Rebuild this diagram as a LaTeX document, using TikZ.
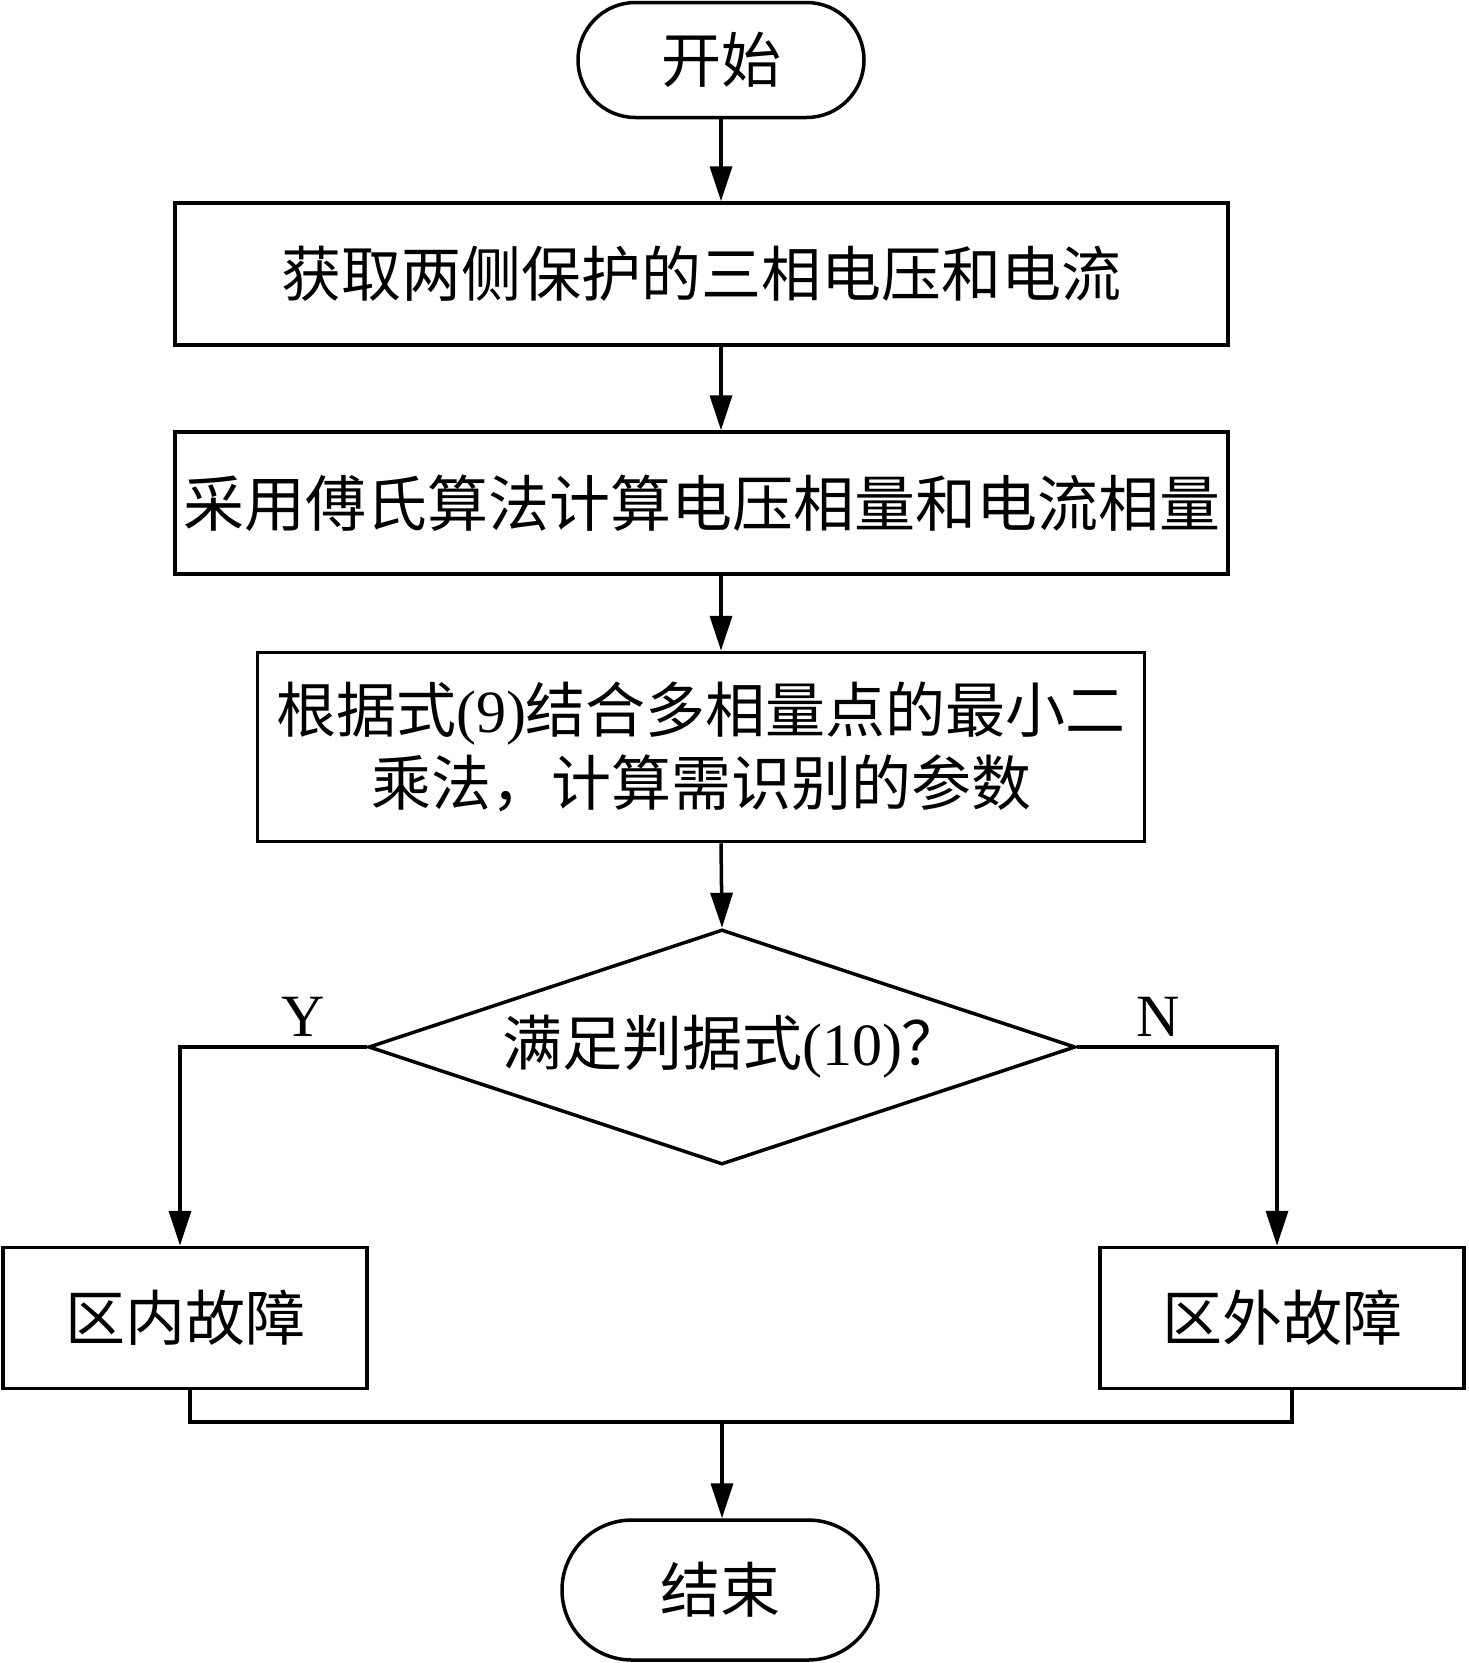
\documentclass[tikz,border=0pt]{standalone}
\usepackage{fontspec}
\setmainfont{Liberation Serif}
\newfontfamily\cjk{Noto Sans CJK SC}
\usetikzlibrary{arrows.meta,shapes.geometric,shapes.misc}
\begin{document}
\begin{tikzpicture}[x=1pt,y=-1pt,line width=3.5pt,
  every node/.style={font=\fontsize{60}{73}\selectfont},
  term/.style={draw,rounded rectangle,inner sep=0pt,minimum width=#1},
  procbox/.style={draw,rectangle,inner sep=0pt,align=center,minimum width=#1},
  decision/.style={draw,diamond,inner sep=0pt,shape aspect=3,minimum width=707pt,minimum height=235pt},
  arr/.style={-{Triangle[length=35pt,width=22pt]}},
  lbl/.style={inner sep=0pt}]
\useasboundingbox (0,0) rectangle (1468,1663);

\node[term=286pt,minimum height=115pt] (start) at (721,60) {\cjk 开始};
\node[procbox=1053pt,minimum height=142pt] (b1) at (701.5,274) {\cjk 获取两侧保护的三相电压和电流};
\node[procbox=1053pt,minimum height=142pt,font=\fontsize{61}{73}\selectfont] (b2) at (701.5,503) {\cjk 采用傅氏算法计算电压相量和电流相量};
\node[procbox=887pt,minimum height=189pt] (b3) at (701,747) {{\cjk 根据式}(9){\cjk 结合多相量点的最小二}\\{\cjk 乘法，计算需识别的参数}};
\node[decision] (dia) at (722,1047) {\hspace*{20pt}{\cjk 满足判据式}(10){\cjk ？}};
\node[procbox=364pt,minimum height=141pt] (lbox) at (185,1318) {\cjk 区内故障};
\node[procbox=364pt,minimum height=141pt] (rbox) at (1282,1318) {\cjk 区外故障};
\node[term=316pt,minimum height=140pt] (endn) at (720,1590) {\cjk 结束};

\node[lbl] (y) at (303,1017) {Y};
\node[lbl] (n) at (1158,1017) {N};

\draw[arr] (start.south) -- (start.south |- b1.north);
\draw[arr] (b1.south -| start.south) -- (b2.north -| start.south);
\draw[arr] (b2.south -| start.south) -- (b3.north -| start.south);
\draw[arr] (b3.south -| start.south) -- (dia.north);
\draw[arr] (dia.west) -| ([xshift=-5pt]lbox.north);
\draw[arr] (dia.east) -| ([xshift=-5pt]rbox.north);
\coordinate (m) at (722,1422);
\draw ([xshift=5pt]lbox.south) |- (m) -| ([xshift=10pt]rbox.south);
\draw[arr] (m) -- (m |- endn.north);
\end{tikzpicture}
\end{document}
